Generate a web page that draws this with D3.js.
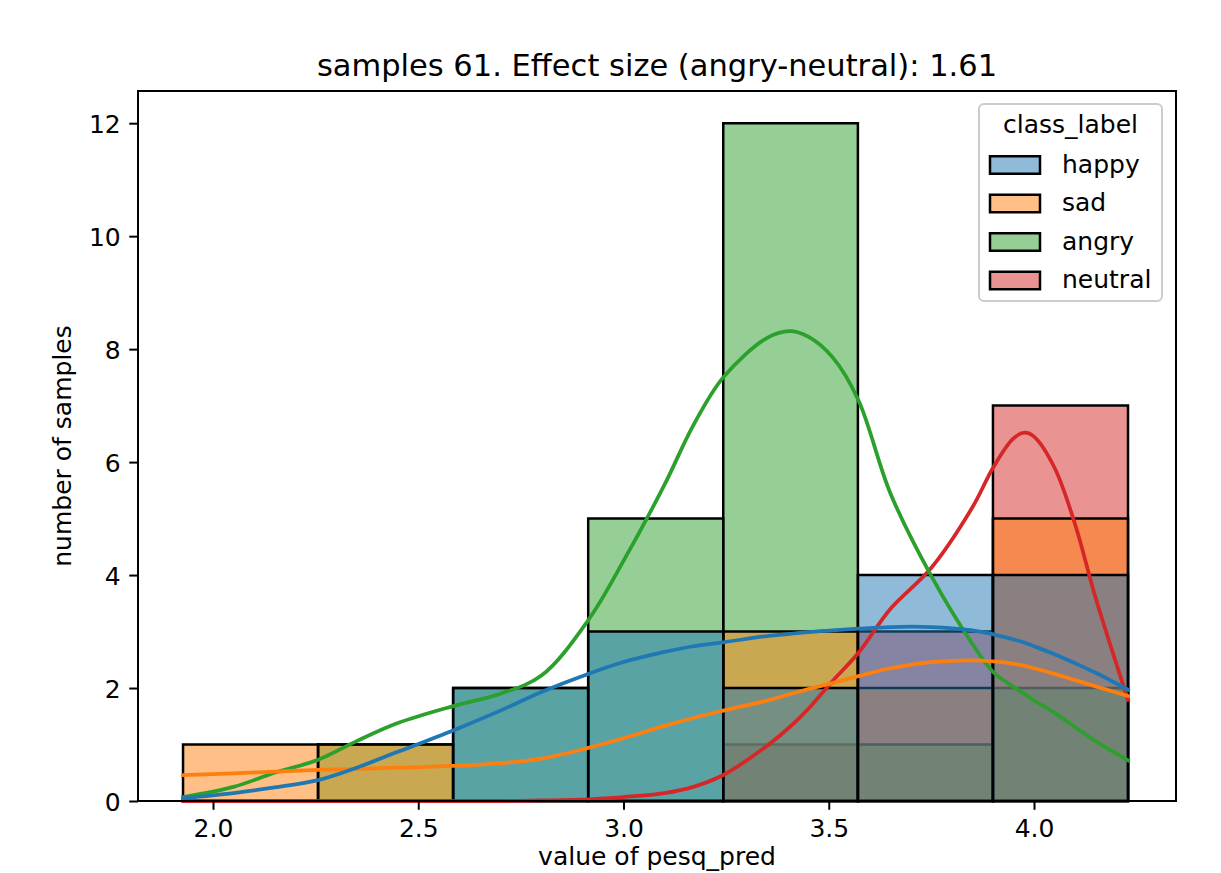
<!DOCTYPE html>
<html>
<head>
<meta charset="utf-8">
<script src="https://cdn.jsdelivr.net/npm/d3@7"></script>
<style>
  html, body { margin: 0; padding: 0; background: #fff; }
  svg { display: block; font-family: "DejaVu Sans", sans-serif; }
</style>
</head>
<body>
<svg id="chart" width="1221" height="873"></svg>
<script>
// ---------- data ----------
const categories = ["happy", "sad", "angry", "neutral"];
const colors = ["#1f77b4", "#ff7f0e", "#2ca02c", "#d62728"];

const binEdges = [1.927, 2.256, 2.585, 2.914, 3.243, 3.571, 3.900, 4.229];

const happyCounts   = [0, 0, 2, 3, 2, 4, 4];
const sadCounts     = [1, 1, 0, 0, 3, 2, 5];
const angryCounts   = [0, 1, 2, 5, 12, 1, 2];
const neutralCounts = [0, 0, 0, 0, 1, 3, 7];

const xTicks = [2.0, 2.5, 3.0, 3.5, 4.0];
const yTicks = [0, 2, 4, 6, 8, 10, 12];

const kdeX = [1.927, 2.05, 2.15, 2.256, 2.35, 2.45, 2.585, 2.70, 2.80, 2.914,
              3.00, 3.10, 3.17, 3.243, 3.35, 3.405, 3.45, 3.51, 3.572, 3.65,
              3.75, 3.85, 3.901, 3.95, 3.978, 4.00, 4.05, 4.10, 4.15, 4.229];
const happyKde   = [0.05, 0.14, 0.24, 0.37, 0.59, 0.87, 1.25, 1.60, 1.93, 2.25,
                    2.46, 2.64, 2.74, 2.81, 2.92, 2.96, 2.99, 3.02, 3.05, 3.08,
                    3.08, 3.02, 2.95, 2.86, 2.80, 2.74, 2.60, 2.44, 2.27, 1.97];
const sadKde     = [0.46, 0.49, 0.52, 0.55, 0.57, 0.59, 0.62, 0.67, 0.75, 0.94,
                    1.11, 1.33, 1.47, 1.60, 1.78, 1.89, 1.98, 2.09, 2.21, 2.35,
                    2.46, 2.49, 2.47, 2.43, 2.39, 2.35, 2.25, 2.14, 2.03, 1.86];
const angryKde   = [0.07, 0.25, 0.50, 0.73, 1.06, 1.38, 1.68, 1.90, 2.22, 3.20,
                    4.25, 5.60, 6.65, 7.50, 8.20, 8.32, 8.22, 7.85, 7.10, 5.45,
                    3.98, 2.78, 2.28, 2.02, 1.89, 1.78, 1.56, 1.31, 1.06, 0.72];
const neutralKde = [0.00, 0.00, 0.00, 0.00, 0.00, 0.00, 0.00, 0.00, 0.01, 0.03,
                    0.07, 0.14, 0.25, 0.46, 0.98, 1.31, 1.63, 2.13, 2.62, 3.40,
                    4.13, 5.20, 5.91, 6.42, 6.52, 6.45, 5.90, 4.90, 3.60, 1.79];

const titleText = "samples 61. Effect size (angry-neutral): 1.61";
const xLabel = "value of pesq_pred";
const yLabel = "number of samples";
const legendTitle = "class_label";

// ---------- layout ----------
const svg = d3.select("#chart");
const L = 138, R = 1176, T = 91, B = 801;
const x = d3.scaleLinear().domain([1.8173, 4.3459]).range([L, R]);
const y = d3.scaleLinear().domain([0, 12.57]).range([B, T]);

const countsBy = [happyCounts, sadCounts, angryCounts, neutralCounts];
const kdeBy = [happyKde, sadKde, angryKde, neutralKde];

svg.append("rect").attr("x", L).attr("y", T).attr("width", R - L).attr("height", B - T).attr("fill", "#fff");

// bars: seaborn draws hue levels in reverse order (last level at bottom)
const barsG = svg.append("g");
for (let k = categories.length - 1; k >= 0; k--) {
  const counts = countsBy[k];
  counts.forEach((c, i) => {
    const x0 = x(binEdges[i]), x1 = x(binEdges[i + 1]);
    const y0 = y(0), y1 = y(c);
    barsG.append("path")
      .attr("d", `M${x0},${y0}H${x1}V${y1}H${x0}Z`)
      .attr("fill", colors[k])
      .attr("fill-opacity", 0.5)
      .attr("stroke", "#000")
      .attr("stroke-width", 2.5)
      .attr("stroke-linejoin", "miter");
  });
}

// KDE lines
const line = d3.line().x(d => x(d[0])).y(d => y(Math.max(0, d[1]))).curve(d3.curveCatmullRom.alpha(0.5));
const linesG = svg.append("g");
for (let k = categories.length - 1; k >= 0; k--) {
  const pts = kdeX.map((v, i) => [v, kdeBy[k][i]]);
  linesG.append("path")
    .attr("d", line(pts))
    .attr("fill", "none")
    .attr("stroke", colors[k])
    .attr("stroke-width", 3.75)
    .attr("stroke-linecap", "square")
    .attr("stroke-linejoin", "round");
}

// axes
const xAxis = d3.axisBottom(x).tickValues(xTicks).tickFormat(d3.format(".1f")).tickSizeOuter(0).tickSize(8.75).tickPadding(8.5);
const yAxis = d3.axisLeft(y).tickValues(yTicks).tickFormat(d3.format("d")).tickSizeOuter(0).tickSize(8.75).tickPadding(8.5);

const gx = svg.append("g").attr("transform", `translate(0,${B})`).call(xAxis);
const gy = svg.append("g").attr("transform", `translate(${L},0)`).call(yAxis);
[gx, gy].forEach(g => {
  g.select(".domain").remove();
  g.selectAll(".tick line").attr("stroke", "#000").attr("stroke-width", 2);
  g.selectAll(".tick text").attr("fill", "#000").attr("font-size", 25).attr("font-family", "DejaVu Sans");
});
gx.selectAll(".tick text").attr("dy", "0.76em");
gy.selectAll(".tick text").attr("dy", "0.36em");

// spines
svg.append("rect").attr("x", L).attr("y", T).attr("width", R - L).attr("height", B - T)
  .attr("fill", "none").attr("stroke", "#000").attr("stroke-width", 2);

// title and labels
svg.append("text").attr("x", (L + R) / 2).attr("y", 76).attr("text-anchor", "middle")
  .attr("font-size", 30.5).attr("fill", "#000").text(titleText);
svg.append("text").attr("x", (L + R) / 2).attr("y", 865).attr("text-anchor", "middle")
  .attr("font-size", 25).attr("fill", "#000").text(xLabel);
svg.append("text").attr("transform", `translate(71,${(T + B) / 2}) rotate(-90)`).attr("text-anchor", "middle")
  .attr("font-size", 25).attr("fill", "#000").text(yLabel);

// legend
const lg = svg.append("g");
lg.append("rect").attr("x", 979).attr("y", 104).attr("width", 183).attr("height", 197)
  .attr("rx", 5).attr("ry", 5)
  .attr("fill", "#fff").attr("fill-opacity", 0.8)
  .attr("stroke", "#cccccc").attr("stroke-width", 2);
lg.append("text").attr("x", 1070.5).attr("y", 133).attr("text-anchor", "middle")
  .attr("font-size", 25).attr("fill", "#000").text(legendTitle);
const rowY = d3.scalePoint().domain(categories).range([165, 280.5]);
categories.forEach((c, k) => {
  const cy = rowY(c);
  lg.append("rect").attr("x", 990).attr("y", cy - 8.75).attr("width", 50).attr("height", 17.5)
    .attr("fill", colors[k]).attr("fill-opacity", 0.5)
    .attr("stroke", "#000").attr("stroke-width", 2.5);
  lg.append("text").attr("x", 1062).attr("y", cy + 7.5)
    .attr("font-size", 25).attr("fill", "#000").text(c);
});
</script>
</body>
</html>
